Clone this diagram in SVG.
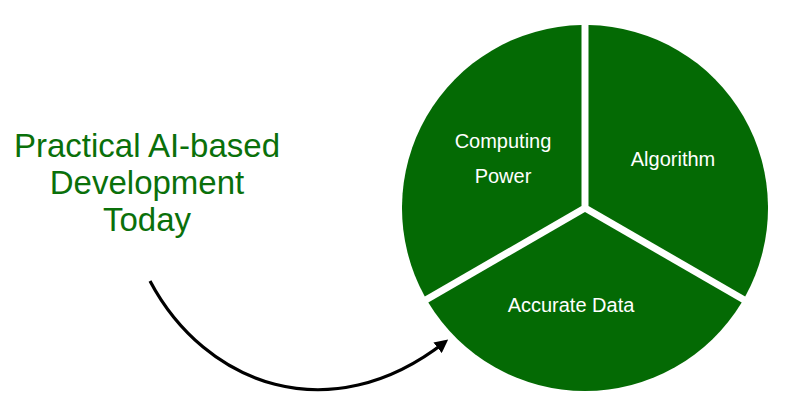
<svg xmlns="http://www.w3.org/2000/svg" width="785" height="420" viewBox="0 0 785 420">
<style>
.sector{fill:#046a04;}
.lbl{font-family:"Liberation Sans",Arial,sans-serif;font-size:20px;fill:#ffffff;text-anchor:middle;}
.title{font-family:"Liberation Sans",Arial,sans-serif;font-size:33px;fill:#0a700a;text-anchor:middle;}
.conn{fill:none;stroke:#000;stroke-width:3.2;}
</style>
<defs>
<marker id="arr" viewBox="0 0 10 10" refX="7" refY="5" markerWidth="4.2" markerHeight="4.2" orient="auto" markerUnits="strokeWidth">
<path d="M0,0 L10,5 L0,10 z" fill="#000"/>
</marker>
</defs>
<rect width="785" height="420" fill="#ffffff"/>
<g id="title">
<text class="title" x="147" y="157">Practical AI-based</text>
<text class="title" x="147" y="194">Development</text>
<text class="title" x="147" y="231">Today</text>
</g>
<g id="computing-power">
<path class="sector" d="M581.5,206 L581.5,25.03 A183,183 0 0 0 424.8,296.46 Z"/>
<text class="lbl" x="503" y="148">Computing</text>
<text class="lbl" x="503" y="183">Power</text>
</g>
<g id="algorithm">
<path class="sector" d="M588.5,206 L588.5,25.03 A183,183 0 0 1 745.2,296.46 Z"/>
<text class="lbl" x="673" y="166">Algorithm</text>
</g>
<g id="accurate-data">
<path class="sector" d="M585,212.04 L741.7,302.52 A183,183 0 0 1 428.3,302.52 Z"/>
<text class="lbl" x="571" y="312">Accurate Data</text>
</g>
<g id="connectors">
<path class="conn" d="M150,281 C205,385 330,432 445,342" marker-end="url(#arr)"/>
</g>
</svg>
